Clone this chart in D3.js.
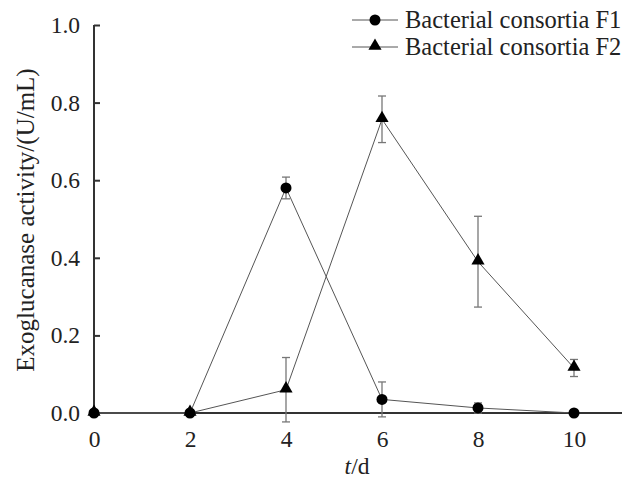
<!DOCTYPE html>
<html>
<head>
<meta charset="utf-8">
<script src="https://cdn.jsdelivr.net/npm/d3@7"></script>
<style>
  body { margin: 0; background: #fff; }
  svg text { font-family: "Liberation Serif", "Times New Roman", serif; fill: #222; }
</style>
</head>
<body>
<div id="chart"></div>
<script>
// data
var days = [0, 2, 4, 6, 8, 10];
var f1 = [0, 0, 0.58, 0.035, 0.013, 0.0];
var f1Err = [0, 0, 0.028, 0.045, 0.013, 0.008];
var f2 = [0, 0, 0.06, 0.757, 0.39, 0.116];
var f2Err = [0, 0, 0.083, 0.06, 0.117, 0.022];
var xTicks = [0, 2, 4, 6, 8, 10];
var yTicks = [0, 0.2, 0.4, 0.6, 0.8, 1.0];
var seriesNames = ["Bacterial consortia F1", "Bacterial consortia F2"];

var width = 632, height = 480;
var fontSize = '23.5px';
var svg = d3.select('#chart').append('svg')
    .attr('width', width)
    .attr('height', height);

var x = d3.scaleLinear().domain([0, 11]).range([94, 622]);
var y = d3.scaleLinear().domain([0, 1]).range([413, 25]);

// y axis, ticks pointing inwards
var yAxis = svg.append('g')
    .attr('transform', 'translate(' + x(0) + ',0)')
    .call(d3.axisRight(y).tickValues(yTicks).tickSize(6).tickFormat(d3.format('.1f')));
yAxis.attr('font-family', null).attr('font-size', null);
yAxis.select('.domain').attr('stroke', '#333').attr('stroke-width', 2).attr('d', 'M0,' + y(0) + 'V' + y(1));
yAxis.selectAll('.tick line').attr('stroke', '#333').attr('stroke-width', 2);
yAxis.selectAll('.tick text')
    .attr('x', -14).attr('text-anchor', 'end')
    .style('font-size', fontSize).attr('fill', '#222');

// x axis, no tick marks
var xAxis = svg.append('g')
    .attr('transform', 'translate(0,' + y(0) + ')')
    .call(d3.axisBottom(x).tickValues(xTicks).tickSize(0).tickFormat(d3.format('d')));
xAxis.attr('font-family', null).attr('font-size', null);
xAxis.select('.domain').attr('stroke', '#333').attr('stroke-width', 2).attr('d', 'M' + x(0) + ',0H' + x(11));
xAxis.selectAll('.tick text')
    .attr('y', 17)
    .style('font-size', fontSize).attr('fill', '#222');

// axis titles
svg.append('text')
    .attr('transform', 'translate(34,220) rotate(-90)')
    .attr('text-anchor', 'middle')
    .style('font-size', '25px')
    .text('Exoglucanase activity/(U/mL)');

var xt = svg.append('text')
    .attr('x', 357).attr('y', 474)
    .attr('text-anchor', 'middle')
    .style('font-size', fontSize);
xt.append('tspan').style('font-style', 'italic').text('t');
xt.append('tspan').text('/d');

var line = d3.line()
    .x(function(d) { return x(d.t); })
    .y(function(d) { return y(d.v); });

var triangle = d3.symbol().type(d3.symbolTriangle).size(75);

function drawSeries(vals, errs, marker) {
    var data = days.map(function(t, i) { return { t: t, v: vals[i], e: errs[i] }; });
    var g = svg.append('g');

    // error bars
    var eb = g.selectAll('g.err').data(data.filter(function(d) { return d.e > 0; }))
        .enter().append('g').attr('stroke', '#777').attr('stroke-width', 1.3);
    eb.append('line')
        .attr('x1', function(d) { return x(d.t); })
        .attr('x2', function(d) { return x(d.t); })
        .attr('y1', function(d) { return y(d.v - d.e); })
        .attr('y2', function(d) { return y(d.v + d.e); });
    eb.append('line')
        .attr('x1', function(d) { return x(d.t) - 4; })
        .attr('x2', function(d) { return x(d.t) + 4; })
        .attr('y1', function(d) { return y(d.v + d.e); })
        .attr('y2', function(d) { return y(d.v + d.e); });
    eb.append('line')
        .attr('x1', function(d) { return x(d.t) - 4; })
        .attr('x2', function(d) { return x(d.t) + 4; })
        .attr('y1', function(d) { return y(d.v - d.e); })
        .attr('y2', function(d) { return y(d.v - d.e); });

    g.append('path').datum(data)
        .attr('d', line)
        .attr('fill', 'none')
        .attr('stroke', '#555')
        .attr('stroke-width', 1);

    if (marker === 'circle') {
        g.selectAll('circle').data(data).enter().append('circle')
            .attr('cx', function(d) { return x(d.t); })
            .attr('cy', function(d) { return y(d.v); })
            .attr('r', 5.5)
            .attr('fill', '#000');
    } else {
        g.selectAll('path.tri').data(data).enter().append('path')
            .attr('class', 'tri')
            .attr('d', triangle)
            .attr('transform', function(d) { return 'translate(' + x(d.t) + ',' + (y(d.v) - 1) + ')'; })
            .attr('fill', '#000');
    }
}

drawSeries(f2, f2Err, 'triangle');
drawSeries(f1, f1Err, 'circle');

// legend
var legend = svg.append('g');
seriesNames.forEach(function(name, i) {
    var ly = 20 + i * 27;
    legend.append('line')
        .attr('x1', 352).attr('x2', 398)
        .attr('y1', ly).attr('y2', ly)
        .attr('stroke', '#555').attr('stroke-width', 1);
    if (i === 0) {
        legend.append('circle').attr('cx', 375).attr('cy', ly).attr('r', 5.5).attr('fill', '#000');
    } else {
        legend.append('path').attr('d', triangle)
            .attr('transform', 'translate(375,' + (ly - 1) + ')').attr('fill', '#000');
    }
    legend.append('text')
        .attr('x', 405).attr('y', ly + 8)
        .style('font-size', '24.5px')
        .text(name);
});
</script>
</body>
</html>
